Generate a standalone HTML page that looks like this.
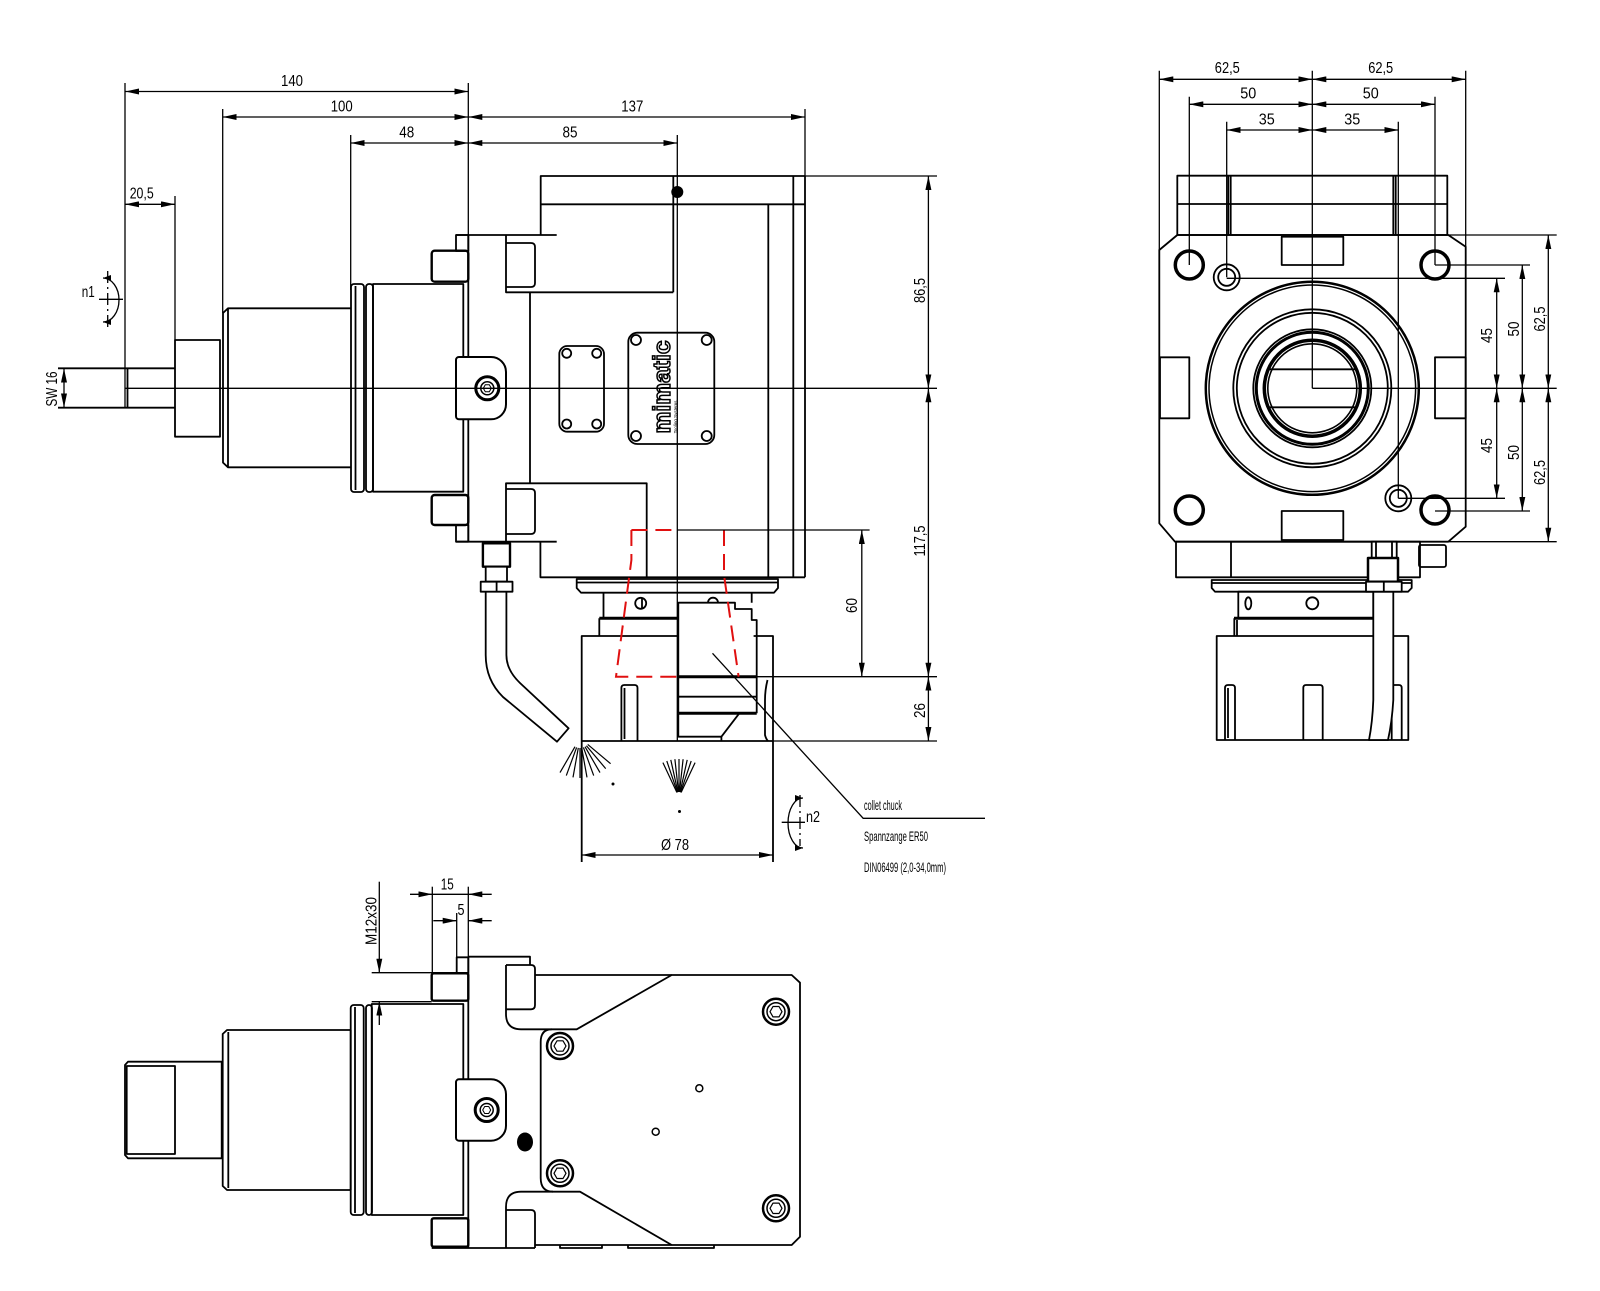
<!DOCTYPE html>
<html><head><meta charset="utf-8"><style>html,body{margin:0;padding:0;background:#fff}svg{display:block}text{font-family:"Liberation Sans",sans-serif;fill:#000}</style></head><body>
<svg xmlns="http://www.w3.org/2000/svg" width="1600" height="1291" viewBox="0 0 1600 1291">
<defs>
<marker id="a" markerWidth="14" markerHeight="6" refX="14" refY="3" orient="auto-start-reverse" markerUnits="userSpaceOnUse"><path d="M0,0 L14,3 L0,6 Z" fill="#000" stroke="none"/></marker>
<marker id="s" markerWidth="8" markerHeight="6" refX="8" refY="3" orient="auto-start-reverse" markerUnits="userSpaceOnUse"><path d="M0,0 L8,3 L0,6 Z" fill="#000" stroke="none"/></marker>
</defs>
<rect width="1600" height="1291" fill="#fff"/>

<!-- ================= MAIN VIEW ================= -->
<g fill="none" stroke="#000" stroke-width="1.8" stroke-linejoin="round">
<path d="M58,368.3 H175 M58,407.7 H175 M127.5,368.3 V407.7"/>
<rect x="175" y="340" width="45" height="96.7"/>
<path d="M228,308.3 H351 M228,467.3 H351 M228,308.3 L223,313 V462.6 L228,467.3 Z"/>
<rect x="351" y="284" width="13" height="208" rx="3"/>
<line x1="355.5" y1="286" x2="355.5" y2="490"/>
<rect x="366" y="284" width="7" height="208" rx="3"/>
<rect x="373" y="284" width="90.3" height="207.7"/>
<rect x="431.7" y="250.7" width="36.6" height="31" rx="3" stroke-width="2.4"/>
<rect x="456" y="235" width="12.3" height="16"/>
<rect x="431.7" y="495" width="36.6" height="30" rx="3" stroke-width="2.4"/>
<rect x="456" y="525" width="12.3" height="16.7"/>
<line x1="468.3" y1="235" x2="468.3" y2="541.7"/>
<path d="M456,235 H556.7 M456,541.7 H556.7"/>
<path d="M506,235 V292.3 H673.3 M530,292.3 V483.3 M506,541.7 V483.3 H646.7 V577.3"/>
<path d="M506,243 H531 Q535,243 535,247 V283 Q535,287 531,287 H506"/>
<path d="M506,489 H531 Q535,489 535,493 V530 Q535,534 531,534 H506"/>
<path d="M540.7,235 V176 H805 M540.7,204.3 H805 M673.3,176 V292.3"/>
<path d="M793.3,176 V577.3 M768.3,204.3 V577.3 M805,176 V577.3 M540.4,541.7 V577.3 H805"/>
<rect x="559.3" y="346" width="44.7" height="85.7" rx="8"/>
<circle cx="566.7" cy="353.3" r="4.5"/><circle cx="596.7" cy="353.3" r="4.5"/>
<circle cx="566.7" cy="424" r="4.5"/><circle cx="596.7" cy="424" r="4.5"/>
<rect x="628.3" y="332.7" width="86" height="111.3" rx="9"/>
<circle cx="636" cy="340" r="5"/><circle cx="706.7" cy="340" r="5"/>
<circle cx="636" cy="436" r="5"/><circle cx="706.7" cy="436" r="5"/>
<!-- lower head -->
<path d="M576.7,579 H778 V588 L774,592.7 H581 L576.7,588 Z M577,582.5 H778"/>
<path d="M603.5,592.7 V618.3 M599.3,618.3 V636"/>
<line x1="599.3" y1="618.3" x2="678.3" y2="618.3" stroke-width="3"/>
<circle cx="640.7" cy="603.3" r="5.5"/><line x1="642" y1="598.5" x2="642" y2="608"/>
<path d="M678.3,676.7 V602.7 H735 V609 H751.7 V620 H756.7 V676.7 Z"/>
<path d="M751.7,592.7 V602.7 M708,602.7 A5,5 0 0 1 718,602.7"/>
<path d="M678.3,676.7 V713.3 M756.7,676.7 V713.3 M678.3,696.7 H756.7"/>
<line x1="678.3" y1="676.7" x2="756.7" y2="676.7" stroke-width="3"/>
<line x1="678.3" y1="713.3" x2="756.7" y2="713.3" stroke-width="3"/>
<path d="M678.3,713.3 V736.7 H721.4 L739.3,713.3 M721.4,736.7 V741"/>
<path d="M581.7,862 V636 H678.3 M753.6,636 H773 V862 M581.7,741 H773"/>
<path d="M767.5,680 Q765,690 765,700 V735 Q766,739 768,741"/>
<path d="M621.4,741 V688 Q621.4,685 624.4,685 H634.5 Q637.5,685 637.5,688 V741 M624.5,688 V739"/>
<!-- fitting & pipe -->
<path d="M485.7,591.7 V655 Q485.7,680 503,697 L557,741.7 L568.6,728.3 L520,683 Q506.4,670 506.4,655 V591.7" fill="#fff"/>
<rect x="482.9" y="543.3" width="27.1" height="23.4" stroke-width="2.4" fill="#fff"/>
<rect x="485.7" y="566.7" width="21.3" height="15" fill="#fff"/>
<rect x="480.7" y="581.7" width="31.8" height="10" fill="#fff"/>
<line x1="496.6" y1="581.7" x2="496.6" y2="591.7"/>
<!-- clamp -->
<path d="M459,357 H491 A15,15 0 0 1 506,372 V404.3 A15,15 0 0 1 491,419.3 H459 A3,3 0 0 1 456,416.3 V360 A3,3 0 0 1 459,357 Z" fill="#fff" stroke-width="2"/>
</g>
<circle cx="677.3" cy="192" r="6" fill="#000"/>
<text transform="translate(670,387) rotate(-90)" text-anchor="middle" font-size="24.5" font-weight="bold" textLength="93" lengthAdjust="spacingAndGlyphs" style="fill:#fff;stroke:#000;stroke-width:1.5">mimatic</text>
<text transform="translate(677,417) rotate(-90)" text-anchor="middle" font-size="4.5">Tooling Systems</text>

<!-- red dashed -->
<g fill="none" stroke="#e01010" stroke-width="2" stroke-dasharray="16,8">
<path d="M631.4,530 V560 L616,676.7 H677"/>
<path d="M631.4,530 H677"/>
<path d="M724,530 V575 L738.6,676.7"/>
</g>

<!-- main dims -->
<g stroke="#000" stroke-width="1.3" fill="none">
<line x1="125" y1="91.5" x2="468.3" y2="91.5" marker-start="url(#a)" marker-end="url(#a)"/>
<line x1="125" y1="83" x2="125" y2="408"/>
<line x1="468.3" y1="83" x2="468.3" y2="235"/>
<line x1="222.7" y1="117" x2="468.3" y2="117" marker-start="url(#a)" marker-end="url(#a)"/>
<line x1="222.7" y1="109" x2="222.7" y2="313"/>
<line x1="468.3" y1="117" x2="805" y2="117" marker-start="url(#a)" marker-end="url(#a)"/>
<line x1="805" y1="109" x2="805" y2="176"/>
<line x1="350.7" y1="143" x2="468.3" y2="143" marker-start="url(#a)" marker-end="url(#a)"/>
<line x1="350.7" y1="135" x2="350.7" y2="290"/>
<line x1="468.3" y1="143" x2="677.3" y2="143" marker-start="url(#a)" marker-end="url(#a)"/>
<line x1="677.3" y1="135" x2="677.3" y2="741"/>
<line x1="125" y1="204.3" x2="175" y2="204.3" marker-start="url(#a)" marker-end="url(#a)"/>
<line x1="175" y1="196" x2="175" y2="340"/>
<line x1="64" y1="368.5" x2="64" y2="407.5" marker-start="url(#a)" marker-end="url(#a)"/>
<line x1="125" y1="388.3" x2="937" y2="388.3"/>
<line x1="805" y1="176" x2="937" y2="176"/>
<line x1="928.4" y1="176" x2="928.4" y2="388.3" marker-start="url(#a)" marker-end="url(#a)"/>
<line x1="928.4" y1="388.3" x2="928.4" y2="676.7" marker-start="url(#a)" marker-end="url(#a)"/>
<line x1="928.4" y1="676.7" x2="928.4" y2="741" marker-start="url(#a)" marker-end="url(#a)"/>
<line x1="677.3" y1="530" x2="869.6" y2="530"/>
<line x1="861.8" y1="530" x2="861.8" y2="676.7" marker-start="url(#a)" marker-end="url(#a)"/>
<line x1="756.7" y1="676.7" x2="937" y2="676.7"/>
<line x1="773" y1="741" x2="937" y2="741"/>
<line x1="581.7" y1="855" x2="773" y2="855" marker-start="url(#a)" marker-end="url(#a)"/>
<polyline points="712.5,653.3 863.2,818.3 985,818.3"/>
<!-- n1 -->
<line x1="107.7" y1="271" x2="107.7" y2="327" stroke-dasharray="12,4,2,4"/>
<line x1="99" y1="299.3" x2="123" y2="299.3"/>
<path d="M103,278 A16,22 0 0 1 103,322" marker-start="url(#s)" marker-end="url(#s)"/>
<!-- n2 -->
<line x1="800" y1="795" x2="800" y2="846" stroke-dasharray="12,4,2,4"/>
<line x1="781.7" y1="822.3" x2="805" y2="822.3"/>
<path d="M803,798 A15,25 0 0 0 803,848" marker-start="url(#s)" marker-end="url(#s)"/>
<!-- fans -->
<g stroke-width="1.2">
<line x1="587.7" y1="744.4" x2="610.6" y2="763.7"/><line x1="586.4" y1="745.7" x2="605.7" y2="768.6"/>
<line x1="585" y1="746.7" x2="600" y2="772.6"/><line x1="583.4" y1="747.4" x2="593.7" y2="775.6"/>
<line x1="581.7" y1="747.9" x2="587" y2="777.4"/><line x1="580" y1="748" x2="580" y2="778"/>
<line x1="578.3" y1="747.9" x2="573" y2="777.4"/><line x1="576.6" y1="747.4" x2="566.3" y2="775.6"/>
<line x1="575" y1="746.7" x2="560" y2="772.6"/>
<line x1="676.9" y1="792.5" x2="662.9" y2="762.6"/><line x1="677.4" y1="792.3" x2="666.8" y2="761"/>
<line x1="677.9" y1="792.1" x2="670.8" y2="759.9"/><line x1="678.5" y1="792" x2="674.9" y2="759.2"/>
<line x1="679" y1="792" x2="679" y2="759"/><line x1="679.5" y1="792" x2="683.1" y2="759.2"/>
<line x1="680.1" y1="792.1" x2="687.2" y2="759.9"/><line x1="680.6" y1="792.3" x2="691.2" y2="761"/>
<line x1="681.1" y1="792.5" x2="695.1" y2="762.6"/>
</g>
</g>
<circle cx="613" cy="784" r="1.5" fill="#000"/>
<circle cx="679.5" cy="811.5" r="1.5" fill="#000"/>
<!-- main screw -->
<g fill="none" stroke="#000">
<circle cx="487.3" cy="388.3" r="11.5" stroke-width="3"/>
<circle cx="487.3" cy="388.3" r="6.5" stroke-width="1.5"/>
<polygon points="491.3,388.3 489.3,391.8 485.3,391.8 483.3,388.3 485.3,384.8 489.3,384.8" stroke-width="1"/>
</g>

<!-- main texts -->
<g font-size="16">
<text x="292" y="86" text-anchor="middle" textLength="22" lengthAdjust="spacingAndGlyphs">140</text>
<text x="341.7" y="111.7" text-anchor="middle" textLength="22" lengthAdjust="spacingAndGlyphs">100</text>
<text x="406.7" y="137.5" text-anchor="middle" textLength="15" lengthAdjust="spacingAndGlyphs">48</text>
<text x="632.3" y="111.7" text-anchor="middle" textLength="22" lengthAdjust="spacingAndGlyphs">137</text>
<text x="570" y="137.5" text-anchor="middle" textLength="15" lengthAdjust="spacingAndGlyphs">85</text>
<text x="141.7" y="198.5" text-anchor="middle" textLength="24" lengthAdjust="spacingAndGlyphs">20,5</text>
<text transform="translate(57,389) rotate(-90)" text-anchor="middle" textLength="35" lengthAdjust="spacingAndGlyphs">SW 16</text>
<text x="81.7" y="297" textLength="13" lengthAdjust="spacingAndGlyphs">n1</text>
<text x="806" y="822" textLength="14" lengthAdjust="spacingAndGlyphs">n2</text>
<text transform="translate(925,290.5) rotate(-90)" text-anchor="middle" textLength="25" lengthAdjust="spacingAndGlyphs">86,5</text>
<text transform="translate(925,541) rotate(-90)" text-anchor="middle" textLength="31" lengthAdjust="spacingAndGlyphs">117,5</text>
<text transform="translate(857,605.5) rotate(-90)" text-anchor="middle" textLength="15" lengthAdjust="spacingAndGlyphs">60</text>
<text transform="translate(925,710.5) rotate(-90)" text-anchor="middle" textLength="15" lengthAdjust="spacingAndGlyphs">26</text>
<text x="675" y="850" text-anchor="middle" textLength="28" lengthAdjust="spacingAndGlyphs">Ø 78</text>
</g>
<g font-size="14">
<text x="864" y="810" textLength="38" lengthAdjust="spacingAndGlyphs">collet chuck</text>
<text x="864" y="841" textLength="64" lengthAdjust="spacingAndGlyphs">Spannzange ER50</text>
<text x="864" y="872" textLength="82" lengthAdjust="spacingAndGlyphs">DIN06499 (2,0-34,0mm)</text>
</g>

<!-- ================= RIGHT VIEW ================= -->
<g fill="none" stroke="#000" stroke-width="1.8" stroke-linejoin="round">
<rect x="1177.3" y="175.7" width="270" height="59.3"/>
<path d="M1177.3,204 H1447.3 M1228.3,175.7 V235 M1230.7,175.7 V235 M1393.3,175.7 V235 M1395.7,175.7 V235"/>
<path d="M1177.3,235 H1448.3 L1465.7,246.7 V526.7 L1448.3,541.7 H1175 L1159.3,523.3 V250 Z"/>
<rect x="1281.7" y="236.7" width="61.6" height="28.3"/>
<rect x="1281.7" y="511" width="61.6" height="29"/>
<rect x="1160" y="357.3" width="29.3" height="61"/>
<rect x="1435" y="357.3" width="30.7" height="61"/>
<g stroke-width="3.5">
<circle cx="1189.3" cy="265" r="14"/><circle cx="1435" cy="265" r="14"/>
<circle cx="1189.3" cy="510" r="14"/><circle cx="1435" cy="510" r="14"/>
</g>
<circle cx="1226.7" cy="277.3" r="13"/><circle cx="1226.7" cy="277.3" r="8.5"/>
<circle cx="1398.3" cy="498.3" r="13"/><circle cx="1398.3" cy="498.3" r="8.5"/>
<circle cx="1312.3" cy="388.3" r="106.5" stroke-width="2.5"/>
<circle cx="1312.3" cy="388.3" r="103.3" stroke-width="1.5"/>
<circle cx="1312.3" cy="388.3" r="79"/>
<circle cx="1312.3" cy="388.3" r="75.5"/>
<circle cx="1312.3" cy="388.3" r="59"/>
<circle cx="1312.3" cy="388.3" r="56" stroke-width="3"/>
<circle cx="1312.3" cy="388.3" r="48" stroke-width="3.5"/>
<circle cx="1312.3" cy="388.3" r="44.5" stroke-width="1.6"/>
<path d="M1268,369.3 H1356 M1268,407.3 H1356"/>
<!-- lower -->
<rect x="1176" y="541.7" width="244" height="35.6"/>
<line x1="1231" y1="541.7" x2="1231" y2="577.3"/>
<rect x="1419" y="545" width="27" height="22" rx="2"/>
<path d="M1211.7,580 H1411.7 V588 L1408,591.7 H1215 L1211.7,588 Z M1212,583 H1411.7"/>
<rect x="1238.3" y="591.7" width="135" height="26.6"/>
<ellipse cx="1248.3" cy="603.3" rx="3" ry="6"/>
<circle cx="1312.3" cy="603.3" r="6"/>
<line x1="1234" y1="618.3" x2="1373.3" y2="618.3" stroke-width="3"/>
<path d="M1234.3,618.3 V636 M1237,620 V636"/>
<rect x="1216.7" y="636" width="191.6" height="104"/>
<path d="M1225,740 V688 Q1225,685 1228,685 H1232 Q1235,685 1235,688 V740 M1228,688 V738"/>
<path d="M1303.3,740 V688 Q1303.3,685 1306,685 H1320 Q1322.7,685 1322.7,688 V740"/>
<path d="M1391.7,740 V688 Q1391.7,685 1394.5,685 H1399 Q1401.7,685 1401.7,688 V740"/>
<path d="M1373.3,591.7 V700 Q1372.5,722 1369,740 H1388 Q1392,722 1393.3,700 V591.7 Z" fill="#fff"/>
<rect x="1371.7" y="541.7" width="25" height="16.6" fill="#fff"/>
<path d="M1376,541.7 V558.3 M1392,541.7 V558.3"/>
<rect x="1368" y="558" width="30" height="23.7" stroke-width="2.5" fill="#fff"/>
<rect x="1366" y="581.7" width="35.7" height="10" fill="#fff"/>
<line x1="1383.8" y1="581.7" x2="1383.8" y2="591.7"/>
</g>
<g stroke="#000" stroke-width="1.3" fill="none">
<line x1="1159.3" y1="79.3" x2="1312.3" y2="79.3" marker-start="url(#a)" marker-end="url(#a)"/>
<line x1="1312.3" y1="79.3" x2="1465.7" y2="79.3" marker-start="url(#a)" marker-end="url(#a)"/>
<line x1="1189.3" y1="104.3" x2="1312.3" y2="104.3" marker-start="url(#a)" marker-end="url(#a)"/>
<line x1="1312.3" y1="104.3" x2="1435" y2="104.3" marker-start="url(#a)" marker-end="url(#a)"/>
<line x1="1226.7" y1="130" x2="1312.3" y2="130" marker-start="url(#a)" marker-end="url(#a)"/>
<line x1="1312.3" y1="130" x2="1398.3" y2="130" marker-start="url(#a)" marker-end="url(#a)"/>
<line x1="1159.3" y1="70.7" x2="1159.3" y2="250"/>
<line x1="1465.7" y1="70.7" x2="1465.7" y2="246.7"/>
<line x1="1189.3" y1="96.7" x2="1189.3" y2="265"/>
<line x1="1435" y1="96.7" x2="1435" y2="265"/>
<line x1="1226.7" y1="121.7" x2="1226.7" y2="277.3"/>
<line x1="1398.3" y1="121.7" x2="1398.3" y2="498.3"/>
<line x1="1312.3" y1="70.7" x2="1312.3" y2="388.3"/>
<line x1="1312.3" y1="388.3" x2="1556.7" y2="388.3"/>
<line x1="1448.3" y1="235" x2="1556.7" y2="235"/>
<line x1="1448.3" y1="541.7" x2="1556.7" y2="541.7"/>
<line x1="1435" y1="265" x2="1530" y2="265"/>
<line x1="1226.7" y1="278.3" x2="1505" y2="278.3"/>
<line x1="1398.3" y1="498.3" x2="1505" y2="498.3"/>
<line x1="1435" y1="511" x2="1530" y2="511"/>
<line x1="1496.7" y1="278.3" x2="1496.7" y2="388.3" marker-start="url(#a)" marker-end="url(#a)"/>
<line x1="1496.7" y1="388.3" x2="1496.7" y2="498.3" marker-start="url(#a)" marker-end="url(#a)"/>
<line x1="1522.3" y1="265" x2="1522.3" y2="388.3" marker-start="url(#a)" marker-end="url(#a)"/>
<line x1="1522.3" y1="388.3" x2="1522.3" y2="511" marker-start="url(#a)" marker-end="url(#a)"/>
<line x1="1548.3" y1="235" x2="1548.3" y2="388.3" marker-start="url(#a)" marker-end="url(#a)"/>
<line x1="1548.3" y1="388.3" x2="1548.3" y2="541.7" marker-start="url(#a)" marker-end="url(#a)"/>
</g>
<g font-size="16">
<text x="1227.3" y="73" text-anchor="middle" textLength="25" lengthAdjust="spacingAndGlyphs">62,5</text>
<text x="1380.7" y="73" text-anchor="middle" textLength="25" lengthAdjust="spacingAndGlyphs">62,5</text>
<text x="1248.3" y="98.5" text-anchor="middle" textLength="16" lengthAdjust="spacingAndGlyphs">50</text>
<text x="1370.7" y="98.5" text-anchor="middle" textLength="16" lengthAdjust="spacingAndGlyphs">50</text>
<text x="1266.7" y="124.3" text-anchor="middle" textLength="16" lengthAdjust="spacingAndGlyphs">35</text>
<text x="1352.3" y="124.3" text-anchor="middle" textLength="16" lengthAdjust="spacingAndGlyphs">35</text>
<text transform="translate(1492,335.5) rotate(-90)" text-anchor="middle" textLength="15" lengthAdjust="spacingAndGlyphs">45</text>
<text transform="translate(1492,445.5) rotate(-90)" text-anchor="middle" textLength="15" lengthAdjust="spacingAndGlyphs">45</text>
<text transform="translate(1519,329) rotate(-90)" text-anchor="middle" textLength="15" lengthAdjust="spacingAndGlyphs">50</text>
<text transform="translate(1519,452.5) rotate(-90)" text-anchor="middle" textLength="15" lengthAdjust="spacingAndGlyphs">50</text>
<text transform="translate(1545,319) rotate(-90)" text-anchor="middle" textLength="25" lengthAdjust="spacingAndGlyphs">62,5</text>
<text transform="translate(1545,472.5) rotate(-90)" text-anchor="middle" textLength="25" lengthAdjust="spacingAndGlyphs">62,5</text>
</g>

<!-- ================= BOTTOM VIEW ================= -->
<g fill="none" stroke="#000" stroke-width="1.8" stroke-linejoin="round">
<path d="M128,1061.7 H221.7 V1158.3 H128 L125,1155 V1065 Z"/>
<rect x="126.7" y="1066" width="48.3" height="88"/>
<path d="M227,1030 H350.7 V1190 H227 L222.7,1186 V1034 Z M228.3,1032 V1188"/>
<rect x="350.7" y="1005" width="13" height="210" rx="3"/>
<line x1="355" y1="1007" x2="355" y2="1213"/>
<rect x="366" y="1005" width="6" height="210" rx="3"/>
<rect x="371.7" y="1004" width="91.6" height="211"/>
<line x1="468.3" y1="956.7" x2="468.3" y2="1248"/>
<rect x="431.7" y="973.3" width="36.6" height="27.4" rx="2" stroke-width="2.4"/>
<rect x="456.7" y="957.3" width="11.6" height="16"/>
<path d="M468.3,956.7 H530 V965"/>
<path d="M506,965 H531 Q535,965 535,969 V1005 Q535,1009.3 531,1009.3 H506"/>
<path d="M506,965 V1014 Q506,1029.3 521,1029.3 H576.7 L671.7,975 H791.7 L800,982.7 V1236.7 L791.7,1245 H535"/>
<path d="M535,975 H671.7"/>
<path d="M506,1248 V1207 Q506,1191.7 521,1191.7 H580 L671.7,1245"/>
<path d="M506,1210 H531 Q535,1210 535,1214 V1248"/>
<path d="M551.7,1029.3 Q540.7,1029.3 540.7,1042 V1178 Q540.7,1191.7 553,1191.7"/>
<rect x="431.7" y="1218.3" width="36.6" height="28.4" rx="2" stroke-width="2.4"/>
<line x1="431.7" y1="1248" x2="535" y2="1248"/>
<path d="M560,1245 v3 h42 v-3 M628,1245 v3 h86 v-3"/>
<g>
<circle cx="560" cy="1046" r="13" stroke-width="2.5"/><circle cx="560" cy="1046" r="9" stroke-width="1.5"/>
<polygon points="566,1046 563,1051.2 557,1051.2 554,1046 557,1040.8 563,1040.8" stroke-width="1.2"/>
<circle cx="560" cy="1173.3" r="13" stroke-width="2.5"/><circle cx="560" cy="1173.3" r="9" stroke-width="1.5"/>
<polygon points="566,1173.3 563,1178.5 557,1178.5 554,1173.3 557,1168.1 563,1168.1" stroke-width="1.2"/>
<circle cx="776" cy="1011.7" r="13" stroke-width="2.5"/><circle cx="776" cy="1011.7" r="9" stroke-width="1.5"/>
<polygon points="782,1011.7 779,1016.9 773,1016.9 770,1011.7 773,1006.5 779,1006.5" stroke-width="1.2"/>
<circle cx="776" cy="1208.3" r="13" stroke-width="2.5"/><circle cx="776" cy="1208.3" r="9" stroke-width="1.5"/>
<polygon points="782,1208.3 779,1213.5 773,1213.5 770,1208.3 773,1203.1 779,1203.1" stroke-width="1.2"/>
</g>
<circle cx="699.3" cy="1088.3" r="3.5" stroke-width="1.5"/>
<circle cx="655.7" cy="1131.7" r="3.5" stroke-width="1.5"/>
<path d="M459,1079.3 H491 A15,15 0 0 1 506,1094.3 V1125.7 A15,15 0 0 1 491,1140.7 H459 A3,3 0 0 1 456,1137.7 V1082.3 A3,3 0 0 1 459,1079.3 Z" fill="#fff" stroke-width="2"/>
<circle cx="486.7" cy="1110" r="11.5" stroke-width="3"/>
<circle cx="486.7" cy="1110" r="6.5" stroke-width="1.5"/>
<polygon points="490.7,1110 488.7,1113.5 484.7,1113.5 482.7,1110 484.7,1106.5 488.7,1106.5" stroke-width="1"/>
</g>
<ellipse cx="525" cy="1142" rx="8" ry="9.5" fill="#000"/>
<g stroke="#000" stroke-width="1.3" fill="none">
<line x1="379.3" y1="881.7" x2="379.3" y2="972.7" marker-end="url(#a)"/>
<line x1="379.3" y1="1025" x2="379.3" y2="1001.7" marker-end="url(#a)"/>
<line x1="371.7" y1="972.7" x2="468.3" y2="972.7"/>
<line x1="371.7" y1="1001.7" x2="431.7" y2="1001.7"/>
<line x1="432.3" y1="886.7" x2="432.3" y2="973.3"/>
<line x1="468.3" y1="886.7" x2="468.3" y2="956.7"/>
<line x1="456.7" y1="913" x2="456.7" y2="957.3"/>
<line x1="410" y1="894.3" x2="432.3" y2="894.3" marker-end="url(#a)"/>
<line x1="491.7" y1="894.3" x2="468.3" y2="894.3" marker-end="url(#a)"/>
<line x1="432.3" y1="894.3" x2="468.3" y2="894.3"/>
<line x1="433.3" y1="920.7" x2="456.7" y2="920.7" marker-end="url(#a)"/>
<line x1="491.7" y1="920.7" x2="468.3" y2="920.7" marker-end="url(#a)"/>
</g>
<g font-size="16">
<text transform="translate(376.5,921) rotate(-90)" text-anchor="middle" textLength="48" lengthAdjust="spacingAndGlyphs">M12x30</text>
<text x="447.3" y="889.3" text-anchor="middle" textLength="13" lengthAdjust="spacingAndGlyphs">15</text>
<text x="461" y="915" text-anchor="middle" textLength="7" lengthAdjust="spacingAndGlyphs">5</text>
</g>
</svg>
</body></html>
